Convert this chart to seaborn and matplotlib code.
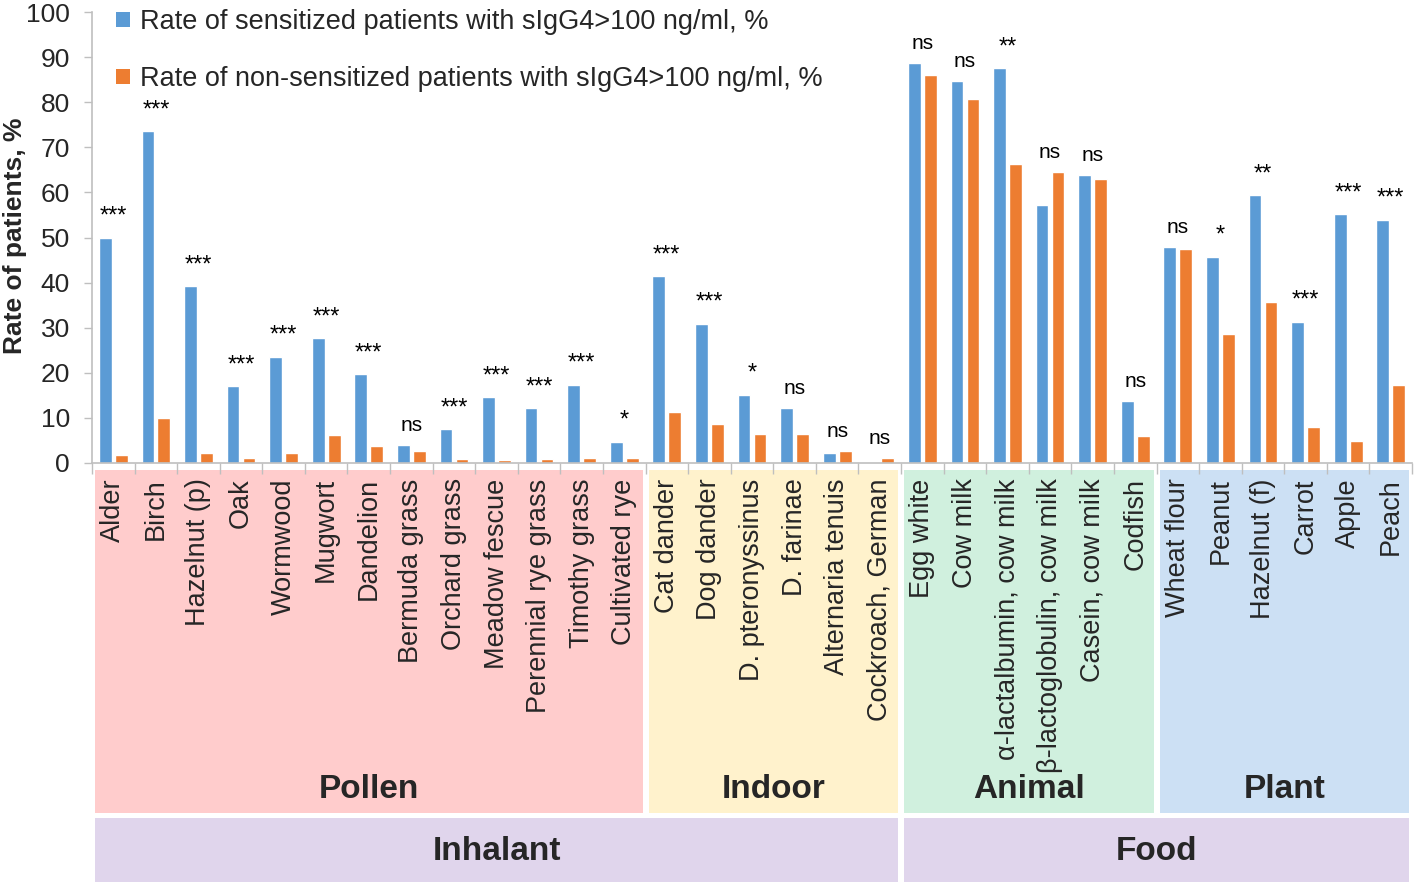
import numpy as np
import pandas as pd
import matplotlib.pyplot as plt
import seaborn as sns
from matplotlib import transforms
from matplotlib.patches import Rectangle, Patch

# Data
allergens = [
    'Alder', 'Birch', 'Hazelnut (p)', 'Oak', 'Wormwood', 'Mugwort', 'Dandelion',
    'Bermuda grass', 'Orchard grass', 'Meadow fescue', 'Perennial rye grass',
    'Timothy grass', 'Cultivated rye',
    'Cat dander', 'Dog dander', 'D. pteronyssinus', 'D. farinae',
    'Alternaria tenuis', 'Cockroach, German',
    'Egg white', 'Cow milk', 'α-lactalbumin, cow milk', 'β-lactoglobulin, cow milk',
    'Casein, cow milk', 'Codfish',
    'Wheat flour', 'Peanut', 'Hazelnut (f)', 'Carrot', 'Apple', 'Peach',
]
sensitized = [49.9, 73.6, 39.2, 17.0, 23.6, 27.7, 19.7, 4.1, 7.5, 14.6, 12.2, 17.4, 4.7,
              41.4, 30.9, 15.1, 12.3, 2.3, 0.0,
              88.7, 84.8, 87.5, 57.1, 63.9, 13.7,
              47.9, 45.7, 59.4, 31.3, 55.2, 53.9]
non_sensitized = [1.8, 9.9, 2.3, 1.0, 2.2, 6.1, 3.8, 2.6, 0.8, 0.7, 0.9, 1.0, 1.0,
                  11.2, 8.6, 6.5, 6.5, 2.6, 1.2,
                  86.1, 80.7, 66.4, 64.6, 63.0, 5.9,
                  47.4, 28.5, 35.6, 8.0, 4.9, 17.2]
significance = ['***', '***', '***', '***', '***', '***', '***', 'ns', '***', '***', '***', '***', '*',
                '***', '***', '*', 'ns', 'ns', 'ns',
                'ns', 'ns', '**', 'ns', 'ns', 'ns',
                'ns', '*', '**', '***', '***', '***']
subgroups = ['Pollen', 'Indoor', 'Animal', 'Plant']
subgroup_sizes = [13, 6, 6, 6]
subgroup_colors = ['#FFCCCC', '#FFF2CC', '#D0F0DE', '#CCE0F4']
groups = ['Inhalant', 'Food']
group_sizes = [19, 12]
series = ['Rate of sensitized patients with sIgG4>100 ng/ml, %',
          'Rate of non-sensitized patients with sIgG4>100 ng/ml, %']
colors = ['#5B9BD5', '#ED7D31']

df = pd.DataFrame({
    'allergen': allergens * 2,
    'rate': sensitized + non_sensitized,
    'series': [series[0]] * len(allergens) + [series[1]] * len(allergens),
})

sns.set_style('white')
plt.rcParams['font.family'] = ['Liberation Sans', 'DejaVu Sans']
narrow = ['Liberation Sans Narrow', 'Liberation Sans', 'DejaVu Sans']

fig = plt.figure(figsize=(14.18, 8.86), dpi=100)
ax = fig.add_axes([92 / 1418, 1 - 463 / 886, 1320 / 1418, 451 / 886])

sns.barplot(data=df, x='allergen', y='rate', hue='series', palette=colors,
            width=0.75, gap=0.2, saturation=1, legend=False, ax=ax)

n = len(allergens)
ax.set_xlim(-0.5, n - 0.5)
ax.set_ylim(0, 100)
ax.set_yticks(range(0, 101, 10))
ax.set_xlabel('')
ax.set_ylabel('')
ax.tick_params(axis='y', labelsize=19, length=6, width=1, color='#BFBFBF', pad=10, left=True)
ax.tick_params(axis='x', which='major', labelsize=19.5, length=0, pad=11, labelrotation=90)
ax.set_xticks(np.arange(-0.5, n, 1), minor=True)
ax.tick_params(axis='x', which='minor', length=8, width=1, color='#BFBFBF', bottom=True)
for lab in ax.get_xticklabels():
    lab.set_va('top')
for side in ['top', 'right']:
    ax.spines[side].set_visible(False)
for side in ['left', 'bottom']:
    ax.spines[side].set_color('#BFBFBF')
    ax.spines[side].set_linewidth(1.2)

# significance marks
for i, (a, b, s) in enumerate(zip(sensitized, non_sensitized, significance)):
    size = 15 if s == 'ns' else 17
    ax.text(i, max(a, b) + 2.2, s, ha='center', va='bottom', fontsize=size, color='black')

# category boxes under the axis
trans = transforms.blended_transform_factory(ax.transData, fig.transFigure)
start = 0
for name, size, col in zip(subgroups, subgroup_sizes, subgroup_colors):
    x0 = start - 0.5 + 0.08
    x1 = start + size - 0.5 - 0.06
    top, bottom = 1 - 470 / 886, 1 - 813 / 886
    fig.add_artist(Rectangle((x0, bottom), x1 - x0, top - bottom, transform=trans,
                             facecolor=col, edgecolor='none', zorder=0))
    fig.text((x0 + x1) / 2, 1 - 789 / 886, name, transform=trans, ha='center', va='center',
             fontsize=24, fontweight='bold', family=narrow)
    start += size

start = 0
for name, size in zip(groups, group_sizes):
    x0 = start - 0.5 + 0.08
    x1 = start + size - 0.5 - 0.06
    top, bottom = 1 - 818 / 886, 1 - 882 / 886
    fig.add_artist(Rectangle((x0, bottom), x1 - x0, top - bottom, transform=trans,
                             facecolor='#E0D5EC', edgecolor='none', zorder=0))
    fig.text((x0 + x1) / 2, 1 - 852 / 886, name, transform=trans, ha='center', va='center',
             fontsize=24, fontweight='bold', family=narrow)
    start += size

fig.text(15 / 1418, 1 - 236 / 886, 'Rate of patients, %', rotation=90, ha='center', va='center',
         fontsize=19, fontweight='bold')

handles = [Patch(facecolor=c, edgecolor='none') for c in colors]
fig.legend(handles, series, loc='upper left', bbox_to_anchor=(116 / 1418, 1 - 9 / 886),
           frameon=False, fontsize=19.5, handlelength=0.5, handleheight=0.5,
           handletextpad=0.4, labelspacing=1.15, borderpad=0, borderaxespad=0)

fig.savefig('out.png', dpi=100)
